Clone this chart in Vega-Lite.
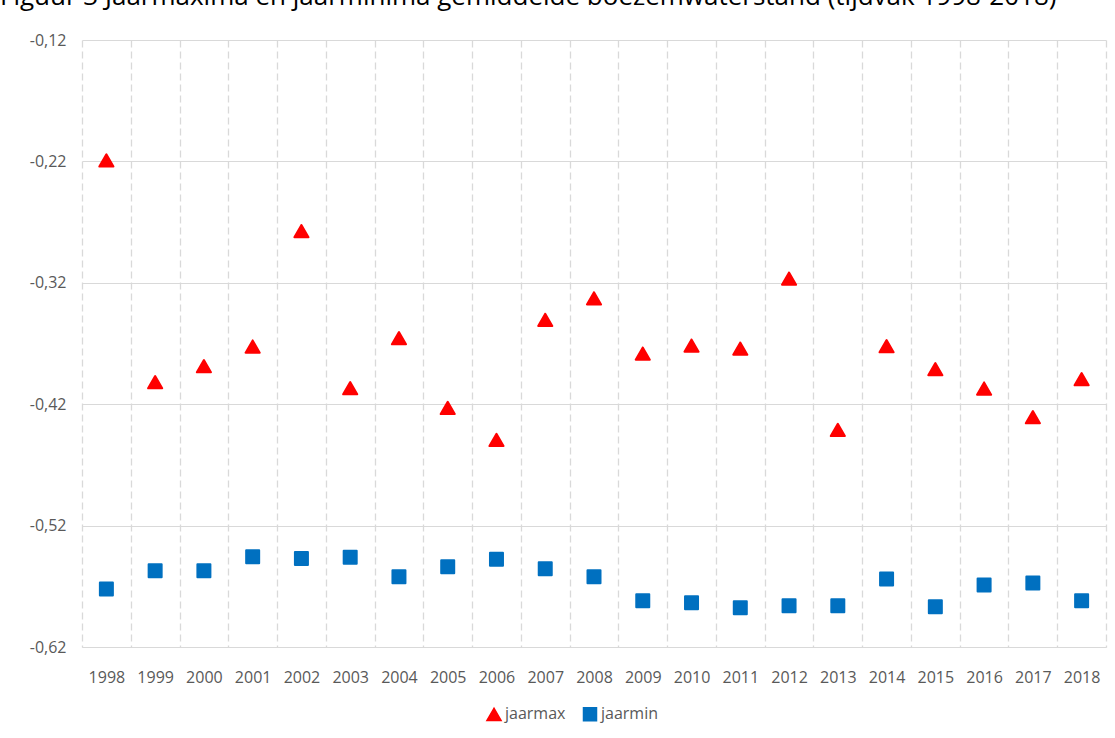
{
  "$schema": "https://vega.github.io/schema/vega-lite/v6.json",
  "width": 1024,
  "height": 607,
  "autosize": {"type": "none"},
  "padding": {"left": 82, "top": 40, "right": 9, "bottom": 91},
  "background": "white",
  "title": {
    "text": "Figuur 3 Jaarmaxima en jaarminima gemiddelde boezemwaterstand (tijdvak 1998-2018)",
    "anchor": "start",
    "frame": "group",
    "dx": -82,
    "dy": 13,
    "offset": 14,
    "baseline": "alphabetic",
    "font": "Open Sans",
    "fontSize": 26,
    "fontWeight": "normal",
    "color": "#000000"
  },
  "config": {
    "locale": {"number": {"decimal": ",", "thousands": ".", "grouping": [3], "currency": ["€", ""], "minus": "-"}},
    "view": {"stroke": null},
    "font": "Open Sans"
  },
  "data": {
    "values": [
      {"year": "1998", "series": "jaarmax", "value": -0.2192},
      {"year": "1999", "series": "jaarmax", "value": -0.4019},
      {"year": "2000", "series": "jaarmax", "value": -0.3887},
      {"year": "2001", "series": "jaarmax", "value": -0.3725},
      {"year": "2002", "series": "jaarmax", "value": -0.2774},
      {"year": "2003", "series": "jaarmax", "value": -0.4068},
      {"year": "2004", "series": "jaarmax", "value": -0.3656},
      {"year": "2005", "series": "jaarmax", "value": -0.4231},
      {"year": "2006", "series": "jaarmax", "value": -0.4494},
      {"year": "2007", "series": "jaarmax", "value": -0.3505},
      {"year": "2008", "series": "jaarmax", "value": -0.3328},
      {"year": "2009", "series": "jaarmax", "value": -0.3783},
      {"year": "2010", "series": "jaarmax", "value": -0.3717},
      {"year": "2011", "series": "jaarmax", "value": -0.3742},
      {"year": "2012", "series": "jaarmax", "value": -0.3165},
      {"year": "2013", "series": "jaarmax", "value": -0.4412},
      {"year": "2014", "series": "jaarmax", "value": -0.3722},
      {"year": "2015", "series": "jaarmax", "value": -0.3911},
      {"year": "2016", "series": "jaarmax", "value": -0.4071},
      {"year": "2017", "series": "jaarmax", "value": -0.4307},
      {"year": "2018", "series": "jaarmax", "value": -0.3994},
      {"year": "1998", "series": "jaarmin", "value": -0.5723},
      {"year": "1999", "series": "jaarmin", "value": -0.5572},
      {"year": "2000", "series": "jaarmin", "value": -0.5572},
      {"year": "2001", "series": "jaarmin", "value": -0.5456},
      {"year": "2002", "series": "jaarmin", "value": -0.5470},
      {"year": "2003", "series": "jaarmin", "value": -0.5461},
      {"year": "2004", "series": "jaarmin", "value": -0.5621},
      {"year": "2005", "series": "jaarmin", "value": -0.5539},
      {"year": "2006", "series": "jaarmin", "value": -0.5478},
      {"year": "2007", "series": "jaarmin", "value": -0.5555},
      {"year": "2008", "series": "jaarmin", "value": -0.5621},
      {"year": "2009", "series": "jaarmin", "value": -0.5819},
      {"year": "2010", "series": "jaarmin", "value": -0.5836},
      {"year": "2011", "series": "jaarmin", "value": -0.5877},
      {"year": "2012", "series": "jaarmin", "value": -0.5860},
      {"year": "2013", "series": "jaarmin", "value": -0.5860},
      {"year": "2014", "series": "jaarmin", "value": -0.5640},
      {"year": "2015", "series": "jaarmin", "value": -0.5869},
      {"year": "2016", "series": "jaarmin", "value": -0.5690},
      {"year": "2017", "series": "jaarmin", "value": -0.5673},
      {"year": "2018", "series": "jaarmin", "value": -0.5819}
    ]
  },
  "mark": {"type": "point", "filled": true, "opacity": 1, "strokeWidth": 2, "strokeJoin": "round"},
  "encoding": {
    "x": {
      "field": "year",
      "type": "nominal",
      "scale": {"type": "band", "paddingInner": 0, "paddingOuter": 0},
      "axis": {
        "title": null,
        "labelAngle": 0,
        "labelFont": "Open Sans",
        "labelFontSize": 16,
        "labelColor": "#595959",
        "labelPadding": 22,
        "ticks": false,
        "tickBand": "extent",
        "grid": true,
        "gridColor": "#d9d9d9",
        "gridDash": [7, 4],
        "gridWidth": 1.3,
        "domain": true,
        "domainColor": "#d9d9d9",
        "domainWidth": 1
      }
    },
    "y": {
      "field": "value",
      "type": "quantitative",
      "scale": {"domain": [-0.62, -0.12], "nice": false, "zero": false},
      "axis": {
        "title": null,
        "values": [-0.62, -0.52, -0.42, -0.32, -0.22, -0.12],
        "format": ".2f",
        "labelFont": "Open Sans",
        "labelFontSize": 16,
        "labelColor": "#595959",
        "labelPadding": 16,
        "ticks": false,
        "domain": false,
        "grid": true,
        "gridColor": "#d9d9d9",
        "gridWidth": 1.2
      }
    },
    "color": {
      "field": "series",
      "type": "nominal",
      "scale": {"domain": ["jaarmax", "jaarmin"], "range": ["#FF0000", "#0070C0"]},
      "legend": {
        "title": null,
        "orient": "none",
        "legendX": 404,
        "legendY": 666,
        "direction": "horizontal",
        "labelFont": "Open Sans",
        "labelFontSize": 16,
        "labelColor": "#595959",
        "symbolSize": 160,
        "labelOffset": 3,
        "columnPadding": 14
      }
    },
    "shape": {
      "field": "series",
      "type": "nominal",
      "scale": {"domain": ["jaarmax", "jaarmin"], "range": ["triangle-up", "square"]}
    },
    "stroke": {
      "field": "series",
      "type": "nominal",
      "scale": {"domain": ["jaarmax", "jaarmin"], "range": ["#FF0000", "#0070C0"]},
      "legend": null
    },
    "size": {
      "field": "series",
      "type": "nominal",
      "scale": {"domain": ["jaarmax", "jaarmin"], "range": [200, 169]},
      "legend": null
    }
  }
}
